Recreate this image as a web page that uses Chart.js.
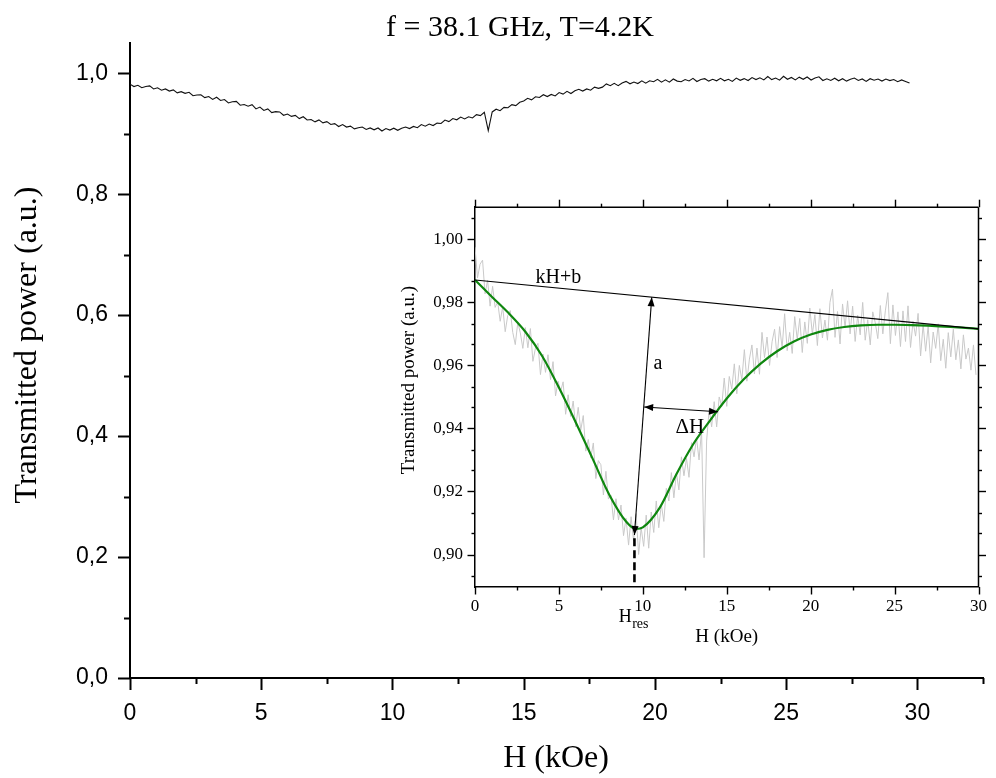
<!DOCTYPE html>
<html>
<head>
<meta charset="utf-8">
<title>Transmitted power vs H</title>
<script src="https://cdn.jsdelivr.net/npm/chart.js@4.4.1/dist/chart.umd.min.js"></script>
<style>
  html, body { margin: 0; padding: 0; background: #fff; }
  #wrap { position: relative; width: 996px; height: 778px; overflow: hidden; }
  #mainChart { position: absolute; left: 0; top: 0; }
  #insetChart { position: absolute; left: 380px; top: 185px; }
</style>
</head>
<body>
<div id="wrap">
  <canvas id="mainChart" width="996" height="778"></canvas>
  <canvas id="insetChart" width="616" height="480"></canvas>
</div>
<script>
// ---- données du graphique principal ----
const mainTitle = 'f = 38.1 GHz, T=4.2K';
const mainFieldStart = 0;      // kOe
const mainFieldStep = 0.15;    // pas du balayage en champ
const mainPower = [
  0.9820, 0.9780, 0.9800, 0.9760, 0.9780, 0.9790, 0.9740, 0.9760, 0.9720, 0.9740,
  0.9705, 0.9725, 0.9675, 0.9695, 0.9667, 0.9685, 0.9628, 0.9641, 0.9644, 0.9597,
  0.9615, 0.9567, 0.9603, 0.9550, 0.9566, 0.9508, 0.9529, 0.9535, 0.9472, 0.9483,
  0.9455, 0.9480, 0.9410, 0.9440, 0.9385, 0.9410, 0.9350, 0.9365, 0.9360, 0.9305,
  0.9325, 0.9287, 0.9303, 0.9250, 0.9281, 0.9228, 0.9235, 0.9196, 0.9228, 0.9180,
  0.9200, 0.9153, 0.9166, 0.9119, 0.9152, 0.9110, 0.9125, 0.9080, 0.9100, 0.9110,
  0.9070, 0.9095, 0.9065, 0.9095, 0.9045, 0.9085, 0.9060, 0.9092, 0.9056, 0.9092,
  0.9110, 0.9085, 0.9120, 0.9100, 0.9151, 0.9125, 0.9160, 0.9135, 0.9175, 0.9170,
  0.9225, 0.9200, 0.9250, 0.9230, 0.9275, 0.9245, 0.9280, 0.9260, 0.9315, 0.9300,
  0.9355, 0.9050, 0.9360, 0.9405, 0.9380, 0.9435, 0.9430, 0.9480, 0.9465, 0.9520,
  0.9540, 0.9585, 0.9560, 0.9610, 0.9600, 0.9645, 0.9615, 0.9650, 0.9625, 0.9680,
  0.9655, 0.9700, 0.9665, 0.9710, 0.9735, 0.9705, 0.9740, 0.9720, 0.9770, 0.9750,
  0.9770, 0.9823, 0.9795, 0.9833, 0.9795, 0.9838, 0.9865, 0.9825, 0.9855, 0.9830,
  0.9875, 0.9835, 0.9875, 0.9860, 0.9900, 0.9853, 0.9891, 0.9853, 0.9905, 0.9870,
  0.9860, 0.9895, 0.9873, 0.9916, 0.9863, 0.9895, 0.9910, 0.9870, 0.9900, 0.9875,
  0.9915, 0.9875, 0.9900, 0.9865, 0.9920, 0.9883, 0.9911, 0.9880, 0.9928, 0.9896,
  0.9925, 0.9890, 0.9945, 0.9895, 0.9920, 0.9885, 0.9950, 0.9900, 0.9930, 0.9890,
  0.9935, 0.9900, 0.9938, 0.9888, 0.9922, 0.9942, 0.9880, 0.9908, 0.9880, 0.9918,
  0.9875, 0.9910, 0.9870, 0.9900, 0.9920, 0.9880, 0.9905, 0.9865, 0.9910, 0.9885,
  0.9905, 0.9870, 0.9905, 0.9878, 0.9896, 0.9860, 0.9890, 0.9865, 0.9840
];
const mainXTicks = [0, 5, 10, 15, 20, 25, 30];
const mainXMinor = [2.5, 7.5, 12.5, 17.5, 22.5, 27.5, 32.5];
const mainYTicks = [0, 0.2, 0.4, 0.6, 0.8, 1.0];
const mainYMinor = [0.1, 0.3, 0.5, 0.7, 0.9];

// ---- données de l'encart ----
const insetFieldStart = 0;
const insetFieldStep = 0.15;
const insetPower = [
  0.9975, 0.9878, 0.9921, 0.9934, 0.9827, 0.9870, 0.9788, 0.9851, 0.9784, 0.9802,
  0.9740, 0.9786, 0.9707, 0.9758, 0.9774, 0.9705, 0.9666, 0.9737, 0.9703, 0.9654,
  0.9720, 0.9656, 0.9717, 0.9613, 0.9654, 0.9670, 0.9571, 0.9636, 0.9578, 0.9634,
  0.9555, 0.9612, 0.9503, 0.9550, 0.9517, 0.9548, 0.9445, 0.9507, 0.9438, 0.9487,
  0.9405, 0.9467, 0.9394, 0.9441, 0.9328, 0.9365, 0.9307, 0.9354, 0.9241, 0.9298,
  0.9285, 0.9189, 0.9264, 0.9176, 0.9188, 0.9110, 0.9177, 0.9110, 0.9157, 0.9060,
  0.9115, 0.9030, 0.9120, 0.9043, 0.9130, 0.9000, 0.9085, 0.9026, 0.9125, 0.9020,
  0.9135, 0.9070, 0.9170, 0.9085, 0.9160, 0.9105, 0.9210, 0.9170, 0.9260, 0.9180,
  0.9260, 0.9205, 0.9310, 0.9250, 0.9305, 0.9245, 0.9355, 0.9310, 0.9370, 0.9300,
  0.9395, 0.8990, 0.9360, 0.9460, 0.9405, 0.9485, 0.9405, 0.9500, 0.9470, 0.9560,
  0.9470, 0.9565, 0.9525, 0.9605, 0.9510, 0.9600, 0.9555, 0.9650, 0.9550, 0.9620,
  0.9665, 0.9573, 0.9655, 0.9572, 0.9705, 0.9625, 0.9690, 0.9600, 0.9675, 0.9715,
  0.9625, 0.9723, 0.9656, 0.9764, 0.9647, 0.9705, 0.9638, 0.9755, 0.9682, 0.9749,
  0.9641, 0.9738, 0.9670, 0.9782, 0.9699, 0.9761, 0.9663, 0.9780, 0.9687, 0.9744,
  0.9680, 0.9800, 0.9842, 0.9689, 0.9771, 0.9668, 0.9795, 0.9720, 0.9805, 0.9700,
  0.9788, 0.9676, 0.9759, 0.9697, 0.9800, 0.9680, 0.9745, 0.9665, 0.9770, 0.9735,
  0.9685, 0.9790, 0.9700, 0.9773, 0.9831, 0.9669, 0.9792, 0.9695, 0.9770, 0.9660,
  0.9773, 0.9676, 0.9789, 0.9657, 0.9740, 0.9693, 0.9765, 0.9630, 0.9730, 0.9645,
  0.9725, 0.9608, 0.9706, 0.9654, 0.9732, 0.9615, 0.9683, 0.9591, 0.9704, 0.9627,
  0.9715, 0.9618, 0.9681, 0.9589, 0.9697, 0.9620, 0.9655, 0.9585, 0.9665, 0.9570
];
// courbe d'ajustement (verte)
const fitField = [0, 1, 2, 3, 4, 5, 6, 7, 8, 9, 9.6, 10, 11, 12, 13, 14, 15, 16, 17, 18, 19, 20, 21, 22, 23, 24, 25, 26, 27, 28, 29, 30];
const fitPower = [0.9871, 0.9818, 0.9766, 0.9707, 0.9630, 0.9530, 0.9420, 0.9305, 0.9190, 0.9105, 0.9081, 0.9086, 0.9148, 0.9255, 0.9350, 0.9425, 0.9495, 0.9555, 0.9605, 0.9645, 0.9676, 0.9698, 0.9713, 0.9722, 0.9727, 0.9729, 0.9729, 0.9728, 0.9726, 0.9723, 0.9720, 0.9716];
// droite de base kH+b
const baseField = [0, 30];
const basePower = [0.9871, 0.9716];
// flèches : a (amplitude) et ΔH (largeur)
const arrowA = [[9.5, 0.9062], [10.53, 0.9816]];
const arrowDH = [[10.08, 0.9468], [14.48, 0.9453]];
const hRes = 9.5;

const insetXTicks = [0, 5, 10, 15, 20, 25, 30];
const insetXMinor = [2.5, 7.5, 12.5, 17.5, 22.5, 27.5];
const insetYTicks = [0.90, 0.92, 0.94, 0.96, 0.98, 1.00];
const insetYMinor = [0.8933, 0.9067, 0.9133, 0.9267, 0.9333, 0.9467, 0.9533, 0.9667, 0.9733, 0.9867, 0.9933, 1.0067];

const SERIF = '"Liberation Serif", "Times New Roman", serif';
const SANS = '"Liberation Sans", Arial, sans-serif';

function toPoints(start, step, values) {
  return values.map((v, i) => ({ x: start + i * step, y: v }));
}

function pairPoints(xs, ys) {
  return xs.map((x, i) => ({ x: x, y: ys[i] }));
}

function strokeLine(ctx, x1, y1, x2, y2) {
  ctx.beginPath();
  ctx.moveTo(x1, y1);
  ctx.lineTo(x2, y2);
  ctx.stroke();
}

// petites graduations tracées à la main (Chart.js n'a pas de ticks mineurs)
function drawTickMarks(chart, axisId, side, values, len, width) {
  const ctx = chart.ctx;
  const a = chart.chartArea;
  const scale = chart.scales[axisId];
  ctx.save();
  ctx.strokeStyle = '#000';
  ctx.lineWidth = width;
  values.forEach(v => {
    const p = Math.round(scale.getPixelForValue(v)) + 0.5;
    if (side === 'bottom') strokeLine(ctx, p, a.bottom, p, a.bottom + len);
    if (side === 'top') strokeLine(ctx, p, a.top, p, a.top - len);
    if (side === 'left') strokeLine(ctx, a.left, p, a.left - len, p);
    if (side === 'right') strokeLine(ctx, a.right, p, a.right + len, p);
  });
  ctx.restore();
}

function arrowHead(ctx, tx, ty, fx, fy, len, half) {
  const ang = Math.atan2(ty - fy, tx - fx);
  const bx = tx - len * Math.cos(ang);
  const by = ty - len * Math.sin(ang);
  ctx.beginPath();
  ctx.moveTo(tx, ty);
  ctx.lineTo(bx + half * Math.sin(ang), by - half * Math.cos(ang));
  ctx.lineTo(bx - half * Math.sin(ang), by + half * Math.cos(ang));
  ctx.closePath();
  ctx.fill();
}

function drawDoubleArrow(chart, pts) {
  const ctx = chart.ctx;
  const x = chart.scales.x, y = chart.scales.y;
  const x1 = x.getPixelForValue(pts[0][0]), y1 = y.getPixelForValue(pts[0][1]);
  const x2 = x.getPixelForValue(pts[1][0]), y2 = y.getPixelForValue(pts[1][1]);
  ctx.save();
  ctx.strokeStyle = '#000';
  ctx.fillStyle = '#000';
  ctx.lineWidth = 1.1;
  strokeLine(ctx, x1, y1, x2, y2);
  arrowHead(ctx, x1, y1, x2, y2, 9, 3.5);
  arrowHead(ctx, x2, y2, x1, y1, 9, 3.5);
  ctx.restore();
}

// ---------------- graphique principal ----------------
const mainDecor = {
  id: 'mainDecor',
  afterDraw(chart) {
    const ctx = chart.ctx;
    drawTickMarks(chart, 'x', 'bottom', mainXTicks, 12, 2);
    drawTickMarks(chart, 'x', 'bottom', mainXMinor, 6, 2);
    drawTickMarks(chart, 'y', 'left', mainYTicks, 12, 2);
    drawTickMarks(chart, 'y', 'left', mainYMinor, 6, 2);

    ctx.save();
    ctx.fillStyle = '#000';
    ctx.textAlign = 'center';
    ctx.textBaseline = 'alphabetic';
    ctx.font = '30px ' + SERIF;
    ctx.fillText(mainTitle, 520, 36);

    ctx.font = '32px ' + SERIF;
    ctx.fillText('H (kOe)', 556, 767);

    ctx.translate(36, 345);
    ctx.rotate(-Math.PI / 2);
    ctx.fillText('Transmitted power (a.u.)', 0, 0);
    ctx.restore();
  }
};

new Chart(document.getElementById('mainChart'), {
  type: 'line',
  data: {
    datasets: [{
      data: toPoints(mainFieldStart, mainFieldStep, mainPower),
      borderColor: '#111',
      borderWidth: 1.1,
      pointRadius: 0,
      tension: 0
    }]
  },
  options: {
    responsive: false,
    animation: false,
    events: [],
    layout: { padding: { top: 43, right: 13, left: 0, bottom: 0 } },
    plugins: { legend: { display: false }, tooltip: { enabled: false } },
    scales: {
      x: {
        type: 'linear',
        min: 0,
        max: 32.5,
        afterBuildTicks: s => { s.ticks = mainXTicks.map(v => ({ value: v })); },
        afterFit: s => { s.height = 100; },
        grid: { display: false, drawTicks: false },
        border: { display: true, color: '#000', width: 2 },
        ticks: {
          autoSkip: false, maxRotation: 0, padding: 22, color: '#000',
          font: { family: SANS, size: 23 },
          callback: v => String(v)
        }
      },
      y: {
        type: 'linear',
        min: 0,
        max: 1.05,
        afterBuildTicks: s => { s.ticks = mainYTicks.map(v => ({ value: v })); },
        afterFit: s => { s.width = 130; },
        grid: { display: false, drawTicks: false },
        border: { display: true, color: '#000', width: 2 },
        ticks: {
          autoSkip: false, padding: 22, color: '#000',
          font: { family: SANS, size: 23 },
          callback: v => v.toFixed(1).replace('.', ',')
        }
      }
    }
  },
  plugins: [mainDecor]
});

// ---------------- encart ----------------
const insetDecor = {
  id: 'insetDecor',
  afterDraw(chart) {
    const ctx = chart.ctx;
    const a = chart.chartArea;
    const x = chart.scales.x, y = chart.scales.y;

    // cadre haut et droite
    ctx.save();
    ctx.strokeStyle = '#000';
    ctx.lineWidth = 1.5;
    strokeLine(ctx, a.left, a.top, a.right, a.top);
    strokeLine(ctx, a.right, a.top, a.right, a.bottom);
    ctx.restore();

    ['bottom', 'top'].forEach(side => {
      drawTickMarks(chart, 'x', side, insetXTicks, 7.5, 1.4);
      drawTickMarks(chart, 'x', side, insetXMinor, 3.5, 1.4);
    });
    ['left', 'right'].forEach(side => {
      drawTickMarks(chart, 'y', side, insetYTicks, 7.5, 1.4);
      drawTickMarks(chart, 'y', side, insetYMinor, 3.5, 1.4);
    });

    // trait pointillé vers H_res
    ctx.save();
    ctx.strokeStyle = '#000';
    ctx.lineWidth = 2.6;
    ctx.setLineDash([8, 4]);
    const hx = x.getPixelForValue(hRes);
    strokeLine(ctx, hx, y.getPixelForValue(0.9052), hx, a.bottom);
    ctx.restore();

    drawDoubleArrow(chart, arrowA);
    drawDoubleArrow(chart, arrowDH);

    ctx.save();
    ctx.fillStyle = '#000';
    ctx.textBaseline = 'alphabetic';
    ctx.font = '20px ' + SERIF;
    ctx.textAlign = 'center';
    ctx.fillText('kH+b', x.getPixelForValue(4.97), y.getPixelForValue(0.9863));
    ctx.textAlign = 'left';
    ctx.fillText('a', x.getPixelForValue(10.63), y.getPixelForValue(0.9588));
    ctx.font = '21px ' + SERIF;
    ctx.fillText('\u0394H', x.getPixelForValue(11.95), y.getPixelForValue(0.9386));

    // H_res sous l'axe
    ctx.font = '18px ' + SERIF;
    const hl = x.getPixelForValue(8.56);
    ctx.fillText('H', hl, a.bottom + 35);
    const hw = ctx.measureText('H').width;
    ctx.font = '14px ' + SERIF;
    ctx.fillText('res', hl + hw + 0.5, a.bottom + 41);

    // titres des axes
    ctx.textAlign = 'center';
    ctx.font = '19px ' + SERIF;
    ctx.fillText('H (kOe)', (a.left + a.right) / 2, a.bottom + 55);
    ctx.translate(a.left - 61, (a.top + a.bottom) / 2 - 17);
    ctx.rotate(-Math.PI / 2);
    ctx.fillText('Transmitted power (a.u.)', 0, 0);
    ctx.restore();
  }
};

new Chart(document.getElementById('insetChart'), {
  type: 'line',
  data: {
    datasets: [
      {
        data: pairPoints(baseField, basePower),
        borderColor: '#000',
        borderWidth: 1.2,
        pointRadius: 0,
        order: 1
      },
      {
        data: pairPoints(fitField, fitPower),
        borderColor: '#0f870f',
        borderWidth: 2.2,
        pointRadius: 0,
        cubicInterpolationMode: 'monotone',
        order: 2
      },
      {
        data: toPoints(insetFieldStart, insetFieldStep, insetPower),
        borderColor: '#c9c9c9',
        borderWidth: 1,
        pointRadius: 0,
        tension: 0,
        order: 3
      }
    ]
  },
  options: {
    responsive: false,
    animation: false,
    events: [],
    layout: { padding: { top: 20, right: 14, left: 0, bottom: 0 } },
    plugins: { legend: { display: false }, tooltip: { enabled: false } },
    scales: {
      x: {
        type: 'linear',
        min: 0,
        max: 30,
        afterBuildTicks: s => { s.ticks = insetXTicks.map(v => ({ value: v })); },
        afterFit: s => { s.height = 78; },
        grid: { display: false, drawTicks: false },
        border: { display: true, color: '#000', width: 1.5 },
        ticks: {
          autoSkip: false, maxRotation: 0, padding: 9, color: '#000',
          font: { family: SERIF, size: 17 },
          callback: v => String(v)
        }
      },
      y: {
        type: 'linear',
        min: 0.8897,
        max: 1.0102,
        afterBuildTicks: s => { s.ticks = insetYTicks.map(v => ({ value: v })); },
        afterFit: s => { s.width = 95; },
        grid: { display: false, drawTicks: false },
        border: { display: true, color: '#000', width: 1.5 },
        ticks: {
          autoSkip: false, padding: 12, color: '#000',
          font: { family: SERIF, size: 17 },
          callback: v => v.toFixed(2).replace('.', ',')
        }
      }
    }
  },
  plugins: [insetDecor]
});
</script>
</body>
</html>
